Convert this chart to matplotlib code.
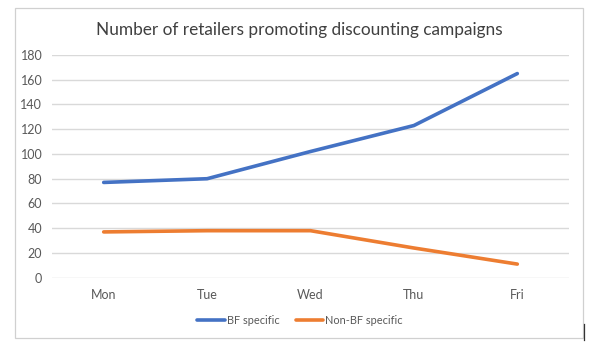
import matplotlib
matplotlib.use("Agg")
import matplotlib.pyplot as plt
from matplotlib.patches import Rectangle
from matplotlib.lines import Line2D

days = ["Mon", "Tue", "Wed", "Thu", "Fri"]
bf_specific = [77, 80, 102, 123, 165]
non_bf_specific = [37, 38, 38, 24, 11]
y_ticks = [0, 20, 40, 60, 80, 100, 120, 140, 160, 180]

BLUE = "#4472C4"
ORANGE = "#ED7D31"
GRID = "#D9D9D9"
TEXT = "#595959"

plt.rcParams["font.family"] = ["Lato", "DejaVu Sans"]

W, H = 600, 346
fig = plt.figure(figsize=(W / 100, H / 100), dpi=100)
fig.patch.set_facecolor("white")

# chart area frame
fig.add_artist(Rectangle((15 / W, 1 - 338 / H), (583 - 15) / W, (338 - 7.5) / H,
                         transform=fig.transFigure, fill=False,
                         edgecolor="#D0D0D0", linewidth=0.9))
fig.add_artist(Line2D([583.5 / W, 583.5 / W], [1 - 324 / H, 1 - 340 / H],
                      transform=fig.transFigure, color="#333333", linewidth=0.9))

# plot area: x 52..569 px, y 55..277.7 px (180..0)
ax = fig.add_axes([52 / W, 1 - 277.7 / H, (569 - 52) / W, (277.7 - 55) / H])
x = list(range(len(days)))
ax.plot(x, bf_specific, color=BLUE, linewidth=2.6, solid_capstyle="round",
        solid_joinstyle="round", label="BF specific", zorder=3)
ax.plot(x, non_bf_specific, color=ORANGE, linewidth=2.6, solid_capstyle="round",
        solid_joinstyle="round", label="Non-BF specific", zorder=3)

ax.set_xlim(-0.5, len(days) - 0.5)
ax.set_ylim(0, 180)
ax.set_yticks(y_ticks)
ax.set_xticks(x)
ax.set_xticklabels(days)
ax.grid(axis="y", color=GRID, linewidth=1.0)
ax.set_axisbelow(True)
for s in ax.spines.values():
    s.set_visible(False)
ax.tick_params(axis="both", length=0, labelsize=9, labelcolor=TEXT)
ax.tick_params(axis="x", pad=8)
ax.tick_params(axis="y", pad=7)
for lbl in ax.get_yticklabels():
    lbl.set_horizontalalignment("right")

fig.text(299.5 / W, 1 - 30 / H, "Number of retailers promoting discounting campaigns",
         ha="center", va="center", fontsize=12.4, color="#404040")

leg = fig.legend(loc="center", bbox_to_anchor=(300 / W, 1 - 320 / H), ncol=2,
                 frameon=False, fontsize=7.9, handlelength=2.5, handletextpad=0.2,
                 columnspacing=1.5, labelcolor=TEXT)

fig.savefig("out.png", dpi=100, facecolor="white")
